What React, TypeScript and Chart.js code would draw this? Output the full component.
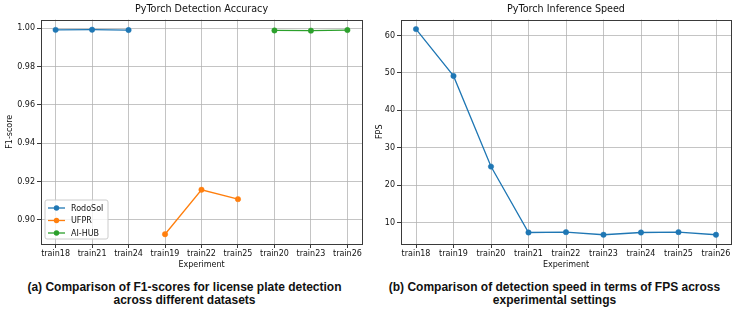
import React, { useEffect, useRef } from "react";
import { Chart, registerables } from "chart.js";
Chart.register(...registerables);

// ---------- data ----------
const leftCategories = ["train18", "train21", "train24", "train19", "train22", "train25", "train20", "train23", "train26"];
const rodoSolIdx = [0, 1, 2];
const rodoSolF1 = [0.9991, 0.9992, 0.999];
const ufprIdx = [3, 4, 5];
const ufprF1 = [0.8925, 0.9157, 0.9108];
const aihubIdx = [6, 7, 8];
const aihubF1 = [0.9988, 0.9987, 0.999];
const f1Ticks = [0.9, 0.92, 0.94, 0.96, 0.98, 1.0];

const rightCategories = ["train18", "train19", "train20", "train21", "train22", "train23", "train24", "train25", "train26"];
const fpsValues = [61.7, 49.2, 25.0, 7.4, 7.5, 6.8, 7.4, 7.5, 6.8];
const fpsTicks = [10, 20, 30, 40, 50, 60];

const BLUE = "#1f77b4";
const ORANGE = "#ff7f0e";
const GREEN = "#2ca02c";
const FONT = '"DejaVu Sans", sans-serif';
const GRID = "rgba(176,176,176,0.75)";
const SPINE = "#3a3a3a";

const pts = (idx: number[], vals: number[]) => idx.map((x, i) => ({ x, y: vals[i] }));

const boxPlugin = {
  id: "spineBox",
  afterDatasetsDraw(chart: any) {
    const { ctx, chartArea } = chart;
    ctx.save();
    ctx.strokeStyle = SPINE;
    ctx.lineWidth = 1;
    ctx.strokeRect(
      Math.round(chartArea.left) + 0.5,
      Math.round(chartArea.top) + 0.5,
      Math.round(chartArea.right - chartArea.left),
      Math.round(chartArea.bottom - chartArea.top)
    );
    ctx.restore();
  },
};

const legendPlugin = {
  id: "innerLegend",
  afterDraw(chart: any) {
    const { ctx, chartArea } = chart;
    const x0 = chartArea.left + 4;
    const w = 63;
    const h = 39;
    const y0 = chartArea.bottom - 5 - h;
    ctx.save();
    ctx.beginPath();
    const r = 2;
    ctx.moveTo(x0 + r, y0);
    ctx.lineTo(x0 + w - r, y0);
    ctx.quadraticCurveTo(x0 + w, y0, x0 + w, y0 + r);
    ctx.lineTo(x0 + w, y0 + h - r);
    ctx.quadraticCurveTo(x0 + w, y0 + h, x0 + w - r, y0 + h);
    ctx.lineTo(x0 + r, y0 + h);
    ctx.quadraticCurveTo(x0, y0 + h, x0, y0 + h - r);
    ctx.lineTo(x0, y0 + r);
    ctx.quadraticCurveTo(x0, y0, x0 + r, y0);
    ctx.closePath();
    ctx.fillStyle = "rgba(255,255,255,0.8)";
    ctx.fill();
    ctx.strokeStyle = "#cccccc";
    ctx.lineWidth = 1;
    ctx.stroke();
    chart.data.datasets.forEach((ds: any, i: number) => {
      const cy = y0 + 8 + i * 12.5;
      ctx.strokeStyle = ds.borderColor;
      ctx.lineWidth = 1.3;
      ctx.beginPath();
      ctx.moveTo(x0 + 3, cy);
      ctx.lineTo(x0 + 20, cy);
      ctx.stroke();
      ctx.fillStyle = ds.borderColor;
      ctx.beginPath();
      ctx.arc(x0 + 11.5, cy, 2.7, 0, Math.PI * 2);
      ctx.fill();
      ctx.fillStyle = "#111";
      ctx.font = "8px " + FONT;
      ctx.textBaseline = "middle";
      ctx.textAlign = "left";
      ctx.fillText(ds.label, x0 + 26, cy + 0.5);
    });
    ctx.restore();
  },
};

function makeOptions(opts: {
  title: string;
  yTitle: string;
  yMin: number;
  yMax: number;
  yTicks: number[];
  labels: string[];
  yWidth: number;
  padRight: number;
  yFmt: (v: number) => string;
}): any {
  return {
    responsive: false,
    animation: false,
    layout: { padding: { left: 0, right: opts.padRight, top: 0, bottom: 0 } },
    plugins: {
      legend: { display: false },
      tooltip: { enabled: false },
      title: {
        display: true,
        fullSize: false,
        text: opts.title,
        color: "#111",
        font: { family: FONT, size: 9.6, weight: "normal" },
        padding: { top: 4, bottom: 4 },
      },
    },
    elements: {
      line: { tension: 0, borderWidth: 1.3 },
      point: { radius: 2.7, borderWidth: 0.5 },
    },
    scales: {
      x: {
        type: "linear",
        min: -0.4,
        max: 8.4,
        afterBuildTicks: (s: any) => {
          s.ticks = opts.labels.map((_, i) => ({ value: i }));
        },
        afterFit: (s: any) => {
          s.height = 28;
        },
        ticks: {
          autoSkip: false,
          maxRotation: 0,
          padding: 1,
          color: "#111",
          font: { family: FONT, size: 8 },
          callback: (v: number) => opts.labels[v] ?? "",
        },
        grid: { color: GRID, lineWidth: 1, tickColor: SPINE, tickLength: 4 },
        border: { display: false },
        title: {
          display: true,
          text: "Experiment",
          color: "#111",
          font: { family: FONT, size: 8 },
          padding: { top: 0, bottom: 2 },
        },
      },
      y: {
        type: "linear",
        min: opts.yMin,
        max: opts.yMax,
        afterBuildTicks: (s: any) => {
          s.ticks = opts.yTicks.map((v) => ({ value: v }));
        },
        afterFit: (s: any) => {
          s.width = opts.yWidth;
        },
        ticks: {
          padding: 2,
          color: "#111",
          font: { family: FONT, size: 8 },
          callback: (v: number) => opts.yFmt(v),
        },
        grid: { color: GRID, lineWidth: 1, tickColor: SPINE, tickLength: 4 },
        border: { display: false },
        title: {
          display: true,
          text: opts.yTitle,
          color: "#111",
          font: { family: FONT, size: 8 },
          padding: { top: 5, bottom: 0 },
        },
      },
    },
  };
}

function LeftChart() {
  const ref = useRef<HTMLCanvasElement>(null);
  useEffect(() => {
    if (!ref.current) return;
    const chart = new Chart(ref.current, {
      type: "line",
      data: {
        datasets: [
          { label: "RodoSol", data: pts(rodoSolIdx, rodoSolF1), borderColor: BLUE, backgroundColor: BLUE, pointBackgroundColor: BLUE, pointBorderColor: BLUE },
          { label: "UFPR", data: pts(ufprIdx, ufprF1), borderColor: ORANGE, backgroundColor: ORANGE, pointBackgroundColor: ORANGE, pointBorderColor: ORANGE },
          { label: "AI-HUB", data: pts(aihubIdx, aihubF1), borderColor: GREEN, backgroundColor: GREEN, pointBackgroundColor: GREEN, pointBorderColor: GREEN },
        ],
      },
      options: makeOptions({
        title: "PyTorch Detection Accuracy",
        yTitle: "F1-score",
        yMin: 0.8874,
        yMax: 1.0045,
        yTicks: f1Ticks,
        labels: leftCategories,
        yWidth: 41,
        padRight: 7,
        yFmt: (v) => v.toFixed(2),
      }),
      plugins: [boxPlugin, legendPlugin],
    });
    return () => chart.destroy();
  }, []);
  return <canvas ref={ref} width={369} height={272} style={{ width: 369, height: 272, display: "block" }} />;
}

function RightChart() {
  const ref = useRef<HTMLCanvasElement>(null);
  useEffect(() => {
    if (!ref.current) return;
    const chart = new Chart(ref.current, {
      type: "line",
      data: {
        datasets: [
          {
            label: "FPS",
            data: pts(rightCategories.map((_, i) => i), fpsValues),
            borderColor: BLUE,
            backgroundColor: BLUE,
            pointBackgroundColor: BLUE,
            pointBorderColor: BLUE,
          },
        ],
      },
      options: makeOptions({
        title: "PyTorch Inference Speed",
        yTitle: "FPS",
        yMin: 4.33,
        yMax: 64.26,
        yTicks: fpsTicks,
        labels: rightCategories,
        yWidth: 31,
        padRight: 8,
        yFmt: (v) => String(v),
      }),
      plugins: [boxPlugin],
    });
    return () => chart.destroy();
  }, []);
  return <canvas ref={ref} width={369} height={272} style={{ width: 369, height: 272, display: "block" }} />;
}

const captionStyle: React.CSSProperties = {
  position: "absolute",
  top: 281,
  width: 369,
  textAlign: "center",
  fontFamily: '"Liberation Sans", Arial, sans-serif',
  fontWeight: "bold",
  fontSize: 12,
  lineHeight: "13px",
  color: "#111",
};

export default function App() {
  return (
    <div style={{ position: "fixed", left: 0, top: 0, width: 739, height: 314, background: "#fff", overflow: "hidden" }}>
      <div style={{ position: "absolute", left: 0, top: 0 }}>
        <LeftChart />
      </div>
      <div style={{ position: "absolute", left: 370, top: 0 }}>
        <RightChart />
      </div>
      <div style={{ ...captionStyle, left: 0 }}>
        (a) Comparison of F1-scores for license plate detection
        <br />
        across different datasets
      </div>
      <div style={{ ...captionStyle, left: 370 }}>
        (b) Comparison of detection speed in terms of FPS across
        <br />
        experimental settings
      </div>
    </div>
  );
}
